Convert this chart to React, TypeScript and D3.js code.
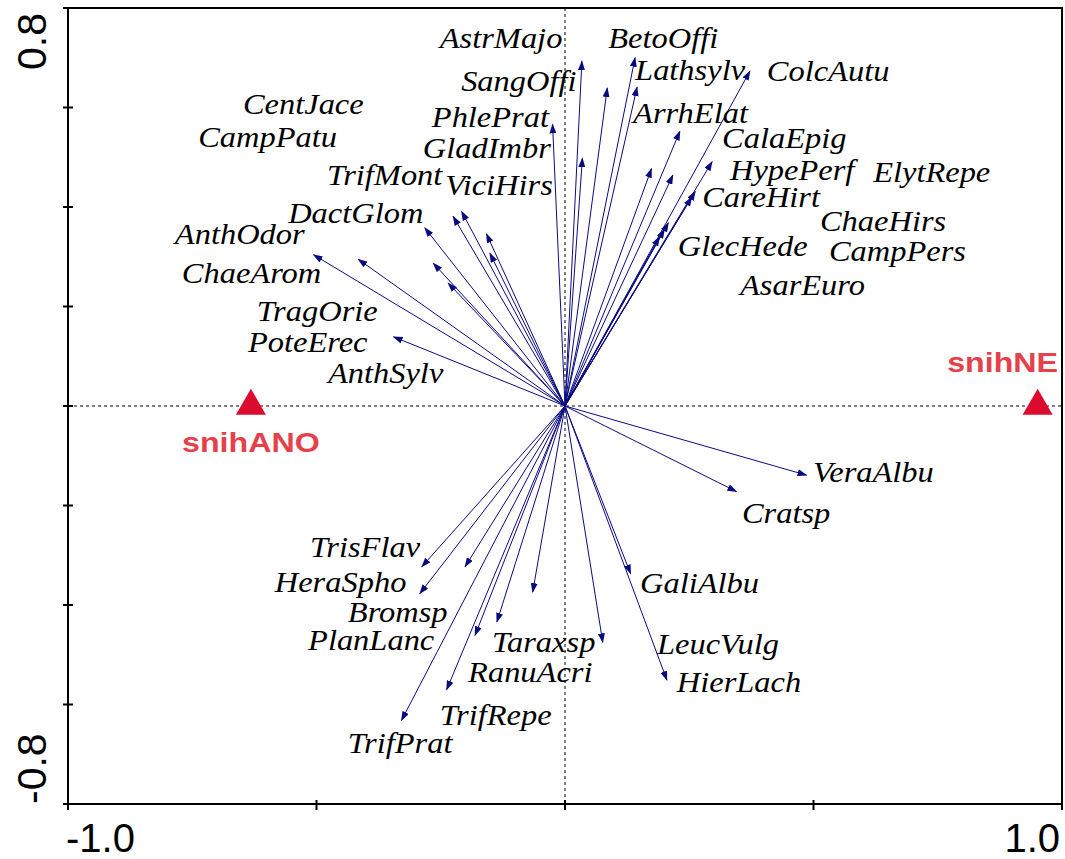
import { useEffect, useRef } from "react"
import * as d3 from "d3"

// species scores (arrow tips) and where CANOCO put their labels
const species = [
  "AstrMajo", "BetoOffi", "SangOffi", "Lathsylv", "ColcAutu", "CentJace", "PhlePrat",
  "ArrhElat", "CampPatu", "CalaEpig", "GladImbr", "HypePerf", "ElytRepe", "TrifMont",
  "ViciHirs", "CareHirt", "DactGlom", "ChaeHirs", "AnthOdor", "GlecHede", "CampPers",
  "ChaeArom", "AsarEuro", "TragOrie", "PoteErec", "AnthSylv",
  "VeraAlbu", "Cratsp", "TrisFlav", "HeraSpho", "GaliAlbu", "Bromsp", "PlanLanc",
  "Taraxsp", "LeucVulg", "RanuAcri", "HierLach", "TrifRepe", "TrifPrat",
]
const axis1 = [
  0.034, 0.141, 0.085, 0.145, 0.372, -0.225, -0.025,
  0.231, -0.416, 0.296, 0.035, 0.217, 0.262, -0.208,
  -0.158, 0.174, -0.282, 0.208, -0.506, 0.2, 0.255,
  -0.265, 0.19, -0.235, -0.345, -0.151,
  0.486, 0.345, -0.288, -0.292, 0.132, -0.201, -0.181,
  -0.065, 0.076, -0.137, 0.205, -0.238, -0.329,
]
const axis2 = [
  0.693, 0.7, 0.639, 0.641, 0.673, 0.381, 0.566,
  0.552, 0.295, 0.491, 0.498, 0.464, 0.431, 0.391,
  0.346, 0.477, 0.358, 0.368, 0.304, 0.355, 0.42,
  0.287, 0.34, 0.247, 0.139, 0.307,
  -0.139, -0.172, -0.323, -0.377, -0.337, -0.323, -0.461,
  -0.374, -0.475, -0.434, -0.551, -0.57, -0.632,
]
const labelX = [
  -0.252, 0.087, -0.209, 0.141, 0.406, -0.648, -0.268,
  0.137, -0.738, 0.316, -0.286, 0.332, 0.62, -0.479,
  -0.241, 0.276, -0.557, 0.513, -0.785, 0.227, 0.531,
  -0.771, 0.352, -0.62, -0.638, -0.477,
  0.499, 0.356, -0.513, -0.584, 0.151, -0.437, -0.517,
  -0.147, 0.185, -0.195, 0.225, -0.252, -0.437,
]
const labelY = [
  0.72, 0.72, 0.634, 0.656, 0.654, 0.586, 0.561,
  0.569, 0.521, 0.519, 0.499, 0.455, 0.451, 0.445,
  0.425, 0.4, 0.368, 0.352, 0.326, 0.302, 0.292,
  0.247, 0.223, 0.171, 0.109, 0.046,
  -0.153, -0.235, -0.304, -0.374, -0.376, -0.435, -0.491,
  -0.495, -0.499, -0.555, -0.575, -0.642, -0.698,
]

// environmental variables (centroids)
const envNames = ["snihANO", "snihNE"]
const envX = [-0.632, 0.951]
const envY = [0, 0]

const yTicks = [-0.8, -0.6, -0.4, -0.2, 0, 0.2, 0.4, 0.6, 0.8]
const xTicks = [-1, -0.5, 0, 0.5, 1]

export default function App() {
  const svgRef = useRef<SVGSVGElement>(null)

  useEffect(() => {
    if (!svgRef.current) return
    const svg = d3.select(svgRef.current)
    svg.selectAll("*").remove()

    const x = d3.scaleLinear().domain([-1, 1]).range([68, 1062])
    const y = d3.scaleLinear().domain([-0.8, 0.8]).range([804, 8])

    const arrowColor = "#0a0a80"

    svg
      .append("defs")
      .append("marker")
      .attr("id", "head")
      .attr("markerUnits", "userSpaceOnUse")
      .attr("markerWidth", 10)
      .attr("markerHeight", 7)
      .attr("refX", 9)
      .attr("refY", 3.5)
      .attr("orient", "auto")
      .append("path")
      .attr("d", "M0,0 L10,3.5 L0,7 Z")
      .attr("fill", arrowColor)

    // dashed zero lines
    svg
      .append("line")
      .attr("x1", x(-1)).attr("x2", x(1))
      .attr("y1", y(0)).attr("y2", y(0))
      .attr("stroke", "#000").attr("stroke-width", 1).attr("stroke-dasharray", "3,3")
    svg
      .append("line")
      .attr("x1", x(0)).attr("x2", x(0))
      .attr("y1", y(0.8)).attr("y2", y(-0.8))
      .attr("stroke", "#000").attr("stroke-width", 1).attr("stroke-dasharray", "3,3")

    // frame
    const frame = svg.append("g").attr("stroke", "#000").attr("stroke-width", 2)
    frame.append("line").attr("x1", x(-1)).attr("x2", x(1)).attr("y1", y(0.8)).attr("y2", y(0.8))
    frame.append("line").attr("x1", x(-1)).attr("x2", x(1)).attr("y1", y(-0.8)).attr("y2", y(-0.8))
    frame.append("line").attr("x1", x(-1)).attr("x2", x(-1)).attr("y1", y(0.8) - 1).attr("y2", y(-0.8) + 6)
    frame.append("line").attr("x1", x(1)).attr("x2", x(1)).attr("y1", y(0.8) - 1).attr("y2", y(-0.8) + 6)

    frame
      .selectAll(".ytick")
      .data(yTicks)
      .enter()
      .append("line")
      .attr("x1", x(-1) - 5).attr("x2", x(-1) + 5)
      .attr("y1", (d) => y(d)).attr("y2", (d) => y(d))
    frame
      .selectAll(".xtick")
      .data(xTicks)
      .enter()
      .append("line")
      .attr("x1", (d) => x(d)).attr("x2", (d) => x(d))
      .attr("y1", y(-0.8) - 4).attr("y2", y(-0.8) + 6)

    // tick labels, only the extremes are labelled
    const tickFont = "Arial, 'Liberation Sans', sans-serif"
    svg.append("text")
      .attr("transform", `translate(46,${y(0.8) + 5}) rotate(-90)`)
      .attr("text-anchor", "end")
      .style("font-family", tickFont).style("font-size", "41px")
      .text("0.8")
    svg.append("text")
      .attr("transform", `translate(46,${y(-0.8)}) rotate(-90)`)
      .attr("text-anchor", "start")
      .style("font-family", tickFont).style("font-size", "41px")
      .text("-0.8")
    svg.append("text")
      .attr("x", x(-1) - 2).attr("y", 852)
      .attr("text-anchor", "start")
      .style("font-family", tickFont).style("font-size", "40px")
      .text("-1.0")
    svg.append("text")
      .attr("x", x(1) - 2).attr("y", 852)
      .attr("text-anchor", "end")
      .style("font-family", tickFont).style("font-size", "40px")
      .text("1.0")

    // species arrows
    svg
      .append("g")
      .selectAll("line")
      .data(species)
      .enter()
      .append("line")
      .attr("x1", x(0)).attr("y1", y(0))
      .attr("x2", (d, i) => x(axis1[i]))
      .attr("y2", (d, i) => y(axis2[i]))
      .attr("stroke", arrowColor)
      .attr("stroke-width", 1)
      .attr("marker-end", "url(#head)")

    // species labels (stretched a little like the original export)
    svg
      .append("g")
      .selectAll("text")
      .data(species)
      .enter()
      .append("text")
      .attr("transform", (d, i) => `translate(${x(labelX[i])},${y(labelY[i])}) scale(1.12,1)`)
      .style("font-family", "'Liberation Serif', 'Times New Roman', serif")
      .style("font-style", "italic")
      .style("font-size", "29px")
      .style("fill", "#000")
      .text((d) => d)

    // environmental centroids
    const triangle = d3.symbol().type(d3.symbolTriangle).size(390)
    envNames.forEach((name, i) => {
      svg.append("path")
        .attr("d", triangle()!)
        .attr("transform", `translate(${x(envX[i])},${y(envY[i])})`)
        .attr("fill", "#dc0a2d")
    })
    svg.append("text")
      .attr("transform", `translate(${x(envX[0])},452) scale(1.15,1)`)
      .attr("text-anchor", "middle")
      .style("font-family", tickFont).style("font-weight", "bold").style("font-size", "28px")
      .style("fill", "#e6404a")
      .text(envNames[0])
    svg.append("text")
      .attr("transform", `translate(${x(1) - 4},372) scale(1.15,1)`)
      .attr("text-anchor", "end")
      .style("font-family", tickFont).style("font-weight", "bold").style("font-size", "28px")
      .style("fill", "#e6404a")
      .text(envNames[1])
  }, [])

  return (
    <svg
      ref={svgRef}
      width={1065}
      height={859}
      style={{ position: "absolute", left: 0, top: 0, background: "#fff" }}
    />
  )
}
